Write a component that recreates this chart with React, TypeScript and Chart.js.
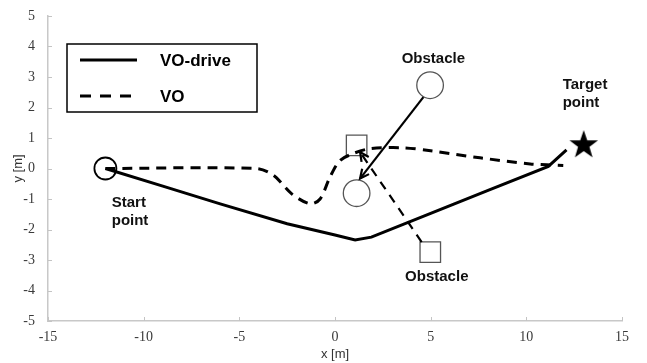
import React, { useEffect, useRef } from "react";
import { Chart, registerables } from "chart.js";

Chart.register(...registerables);

// Axis ranges / ticks
const xMin = -15;
const xMax = 15;
const yMin = -5;
const yMax = 5;
const xStep = 5;
const yStep = 1;

// VO-drive path (solid)
const voDriveX = [-12, -9, -6, -2.5, 0, 1.05, 1.9, 5, 8, 11.15, 12.1];
const voDriveY = [0, -0.58, -1.16, -1.81, -2.18, -2.34, -2.25, -1.47, -0.72, 0.07, 0.61];

// VO path (dashed)
const voX = [-12, -4.1, -3.2, -2.26, -1.3, -0.78, -0.26, 0.26, 0.95, 1.83, 3.55, 5.0, 7.58, 10.2, 11.93];
const voY = [0, 0, -0.23, -0.83, -1.16, -1.0, -0.28, 0.26, 0.49, 0.65, 0.68, 0.58, 0.35, 0.15, 0.1];

// Obstacles
const circleObstacleX = [4.97, 1.13];
const circleObstacleY = [2.73, -0.81];
const squareObstacleX = [1.13, 4.98];
const squareObstacleY = [0.76, -2.74];

// Start / target
const startX = [-12];
const startY = [0];
const targetX = [13];
const targetY = [0.8];

// Obstacle motion arrows
const arrowSolidX = [4.62, 1.31];
const arrowSolidY = [2.34, -0.33];
const arrowDashedX = [4.53, 1.31];
const arrowDashedY = [-2.41, 0.54];

// Annotation texts
const labelLines = [["Obstacle"], ["Obstacle"], ["Start", "point"], ["Target", "point"]];
const labelX = [5.14, 5.32, -11.67, 11.9];
const labelY = [3.6, -3.56, -1.13, 2.73];
const labelAlign = ["center", "center", "left", "left"];

// Legend
const legendLabels = ["VO-drive", "VO"];

const pts = (xs: number[], ys: number[]) => xs.map((x, i) => ({ x, y: ys[i] }));

function makeStar(): HTMLCanvasElement {
  const c = document.createElement("canvas");
  c.width = 32;
  c.height = 32;
  const g = c.getContext("2d")!;
  const cx = 16, cy = 17, R = 15, r = 6;
  g.beginPath();
  for (let i = 0; i < 10; i++) {
    const a = -Math.PI / 2 + (i * Math.PI) / 5;
    const rad = i % 2 === 0 ? R : r;
    const px = cx + rad * Math.cos(a);
    const py = cy + rad * Math.sin(a);
    if (i === 0) g.moveTo(px, py);
    else g.lineTo(px, py);
  }
  g.closePath();
  g.fillStyle = "#000";
  g.fill();
  return c;
}

export default function App() {
  const ref = useRef<HTMLCanvasElement>(null);

  useEffect(() => {
    if (!ref.current) return;
    const star = makeStar();

    const decor = {
      id: "decor",
      afterDatasetsDraw(chart: any) {
        const ctx = chart.ctx as CanvasRenderingContext2D;
        const xs = chart.scales.x;
        const ys = chart.scales.y;
        const area = chart.chartArea;
        ctx.save();

        // arrowheads
        const head = (ax: number[], ay: number[]) => {
          const x0 = xs.getPixelForValue(ax[0]);
          const y0 = ys.getPixelForValue(ay[0]);
          const x1 = xs.getPixelForValue(ax[1]);
          const y1 = ys.getPixelForValue(ay[1]);
          const ang = Math.atan2(y1 - y0, x1 - x0);
          const L = 10;
          const spread = 0.45;
          ctx.beginPath();
          ctx.moveTo(x1 - L * Math.cos(ang - spread), y1 - L * Math.sin(ang - spread));
          ctx.lineTo(x1, y1);
          ctx.lineTo(x1 - L * Math.cos(ang + spread), y1 - L * Math.sin(ang + spread));
          ctx.setLineDash([]);
          ctx.strokeStyle = "#000";
          ctx.lineWidth = 2.2;
          ctx.lineJoin = "miter";
          ctx.stroke();
        };
        head(arrowSolidX, arrowSolidY);
        head(arrowDashedX, arrowDashedY);

        // text labels
        ctx.fillStyle = "#111";
        ctx.font = "bold 15px 'Liberation Sans', Arial, sans-serif";
        ctx.textBaseline = "middle";
        labelLines.forEach((lines, i) => {
          const px = xs.getPixelForValue(labelX[i]);
          const py = ys.getPixelForValue(labelY[i]);
          ctx.textAlign = labelAlign[i] as CanvasTextAlign;
          lines.forEach((t, j) => ctx.fillText(t, px, py + j * 18));
        });

        // inward tick marks
        ctx.strokeStyle = "#c4c4c4";
        ctx.lineWidth = 1;
        for (let v = xMin; v <= xMax; v += xStep) {
          const px = Math.round(xs.getPixelForValue(v)) + 0.5;
          ctx.beginPath();
          ctx.moveTo(px, area.bottom);
          ctx.lineTo(px, area.bottom - 4);
          ctx.stroke();
        }
        for (let v = yMin; v <= yMax; v += yStep) {
          const py = Math.round(ys.getPixelForValue(v)) + 0.5;
          ctx.beginPath();
          ctx.moveTo(area.left, py);
          ctx.lineTo(area.left + 4, py);
          ctx.stroke();
        }

        // legend box
        const bx = area.left + 19;
        const by = area.top + 28;
        const bw = 190;
        const bh = 68;
        ctx.fillStyle = "#fff";
        ctx.fillRect(bx, by, bw, bh);
        ctx.strokeStyle = "#000";
        ctx.lineWidth = 1.5;
        ctx.strokeRect(bx, by, bw, bh);
        const entryY = [by + 16, by + 52];
        ctx.lineWidth = 3;
        ctx.lineCap = "butt";
        legendLabels.forEach((lab, i) => {
          ctx.beginPath();
          ctx.setLineDash(i === 1 ? [11, 9] : []);
          ctx.moveTo(bx + 13, entryY[i]);
          ctx.lineTo(bx + 70, entryY[i]);
          ctx.stroke();
          ctx.setLineDash([]);
          ctx.fillStyle = "#000";
          ctx.font = "bold 17px 'Liberation Sans', Arial, sans-serif";
          ctx.textAlign = "left";
          ctx.textBaseline = "middle";
          ctx.fillText(lab, bx + 93, entryY[i] + 1);
        });
        ctx.restore();
      },
    };

    const chart = new Chart(ref.current, {
      type: "scatter",
      data: {
        datasets: [
          {
            label: legendLabels[0],
            data: pts(voDriveX, voDriveY),
            showLine: true,
            borderColor: "#000",
            borderWidth: 3,
            pointRadius: 0,
            tension: 0,
          },
          {
            label: legendLabels[1],
            data: pts(voX, voY),
            showLine: true,
            borderColor: "#000",
            borderWidth: 3,
            borderDash: [10, 7],
            pointRadius: 0,
            tension: 0.3,
          },
          {
            label: "arrow1",
            data: pts(arrowSolidX, arrowSolidY),
            showLine: true,
            borderColor: "#000",
            borderWidth: 2.2,
            pointRadius: 0,
          },
          {
            label: "arrow2",
            data: pts(arrowDashedX, arrowDashedY),
            showLine: true,
            borderColor: "#000",
            borderWidth: 2.2,
            borderDash: [9, 7],
            pointRadius: 0,
          },
          {
            label: "start",
            data: pts(startX, startY),
            pointStyle: "circle",
            pointRadius: 11,
            borderColor: "#000",
            borderWidth: 1.8,
            backgroundColor: "rgba(255,255,255,0)",
          },
          {
            label: "target",
            data: pts(targetX, targetY),
            pointStyle: star as any,
            pointRadius: 15,
          },
          {
            label: "circles",
            data: pts(circleObstacleX, circleObstacleY),
            pointStyle: "circle",
            pointRadius: 13.3,
            borderColor: "#555",
            borderWidth: 1.3,
            backgroundColor: "#fff",
          },
          {
            label: "squares",
            data: pts(squareObstacleX, squareObstacleY),
            pointStyle: "rect",
            pointRadius: 14.5,
            borderColor: "#555",
            borderWidth: 1.3,
            backgroundColor: "#fff",
          },
        ],
      },
      options: {
        animation: false,
        responsive: false,
        layout: { padding: { top: 16, right: 25, left: 0, bottom: 0 } },
        plugins: {
          legend: { display: false },
          tooltip: { enabled: false },
        },
        scales: {
          x: {
            type: "linear",
            min: xMin,
            max: xMax,
            afterFit: (s: any) => {
              s.height = 42;
            },
            ticks: {
              stepSize: xStep,
              color: "#3a3a3a",
              padding: 0,
              font: { family: "'Liberation Serif', serif", size: 14 },
            },
            grid: { display: false },
            border: { display: true, color: "#c8c8c8", width: 1.5 },
            title: {
              display: true,
              text: "x [m]",
              color: "#333",
              font: { family: "'Liberation Sans', Arial, sans-serif", size: 13 },
              padding: { top: 0, bottom: 1 },
            },
          },
          y: {
            type: "linear",
            min: yMin,
            max: yMax,
            afterFit: (s: any) => {
              s.width = 48;
            },
            ticks: {
              stepSize: yStep,
              color: "#3a3a3a",
              padding: 5,
              font: { family: "'Liberation Serif', serif", size: 14 },
            },
            grid: { display: false },
            border: { display: true, color: "#c8c8c8", width: 1.5 },
            title: {
              display: true,
              text: "y [m]",
              color: "#333",
              font: { family: "'Liberation Sans', Arial, sans-serif", size: 13 },
              padding: { top: 11, bottom: 0 },
            },
          },
        },
      },
      plugins: [decor],
    });
    return () => chart.destroy();
  }, []);

  return (
    <div style={{ position: "absolute", left: 0, top: 0, width: 647, height: 363, background: "#fff" }}>
      <canvas ref={ref} width={647} height={363} style={{ display: "block" }} />
    </div>
  );
}
